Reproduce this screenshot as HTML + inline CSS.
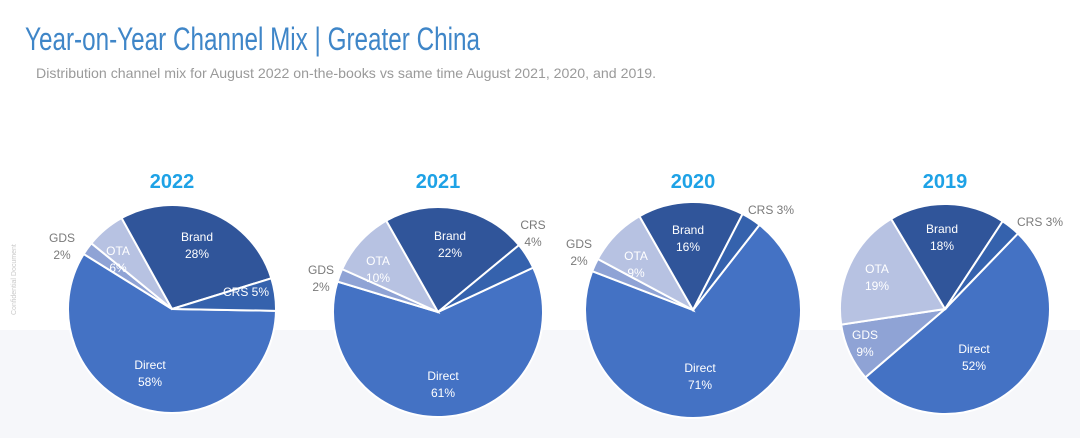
<!DOCTYPE html>
<html><head><meta charset="utf-8"><style>
body{margin:0;width:1080px;height:438px;overflow:hidden;background:#fff;font-family:"Liberation Sans",sans-serif}
</style></head><body>
<svg id="chart" width="1080" height="438" viewBox="0 0 1080 438" xmlns="http://www.w3.org/2000/svg">
<rect x="0" y="330" width="1080" height="108" fill="#f6f7fa"/>
<text x="25" y="50" font-size="32" fill="#3f86c8" textLength="455" lengthAdjust="spacingAndGlyphs">Year-on-Year Channel Mix | Greater China</text>
<text x="36" y="78" font-size="14" fill="#9a9a9a" textLength="620" lengthAdjust="spacingAndGlyphs">Distribution channel mix for August 2022 on-the-books vs same time August 2021, 2020, and 2019.</text>
<text transform="translate(16,315) rotate(-90)" font-size="7" fill="#c8c8c8">Confidential Document</text>
<g id="pies"></g>
</svg>
<script>
const years = ["2022","2021","2020","2019"];
const channels = ["Direct","GDS","OTA","Brand","CRS"];
const direct = [58,61,71,52];
const gds = [2,2,2,9];
const ota = [6,10,9,19];
const brand = [28,22,16,18];
const crs = [5,4,3,3];
const startDeg = [1,-25,-52,-46];
const colors = {Direct:"#4472c4",GDS:"#8fa3d5",OTA:"#b7c2e2",Brand:"#30559a",CRS:"#3562ad"};
const centers = [[172,309],[438,312],[693,310],[945,309]];
const radii = [104,105,108,105];
const ns="http://www.w3.org/2000/svg";
const root=document.getElementById('pies');
function el(t,a){const e=document.createElementNS(ns,t);for(const k in a)e.setAttribute(k,a[k]);return e;}
// label spec: [channel, dx, dy, inside, oneLine]
const labelSpec=[
 {Direct:[-22,60,1],GDS:[-110,-67,0],OTA:[-54,-54,1],Brand:[25,-68,1],CRS:[74,-13,1,1]},
 {Direct:[5,68,1],GDS:[-117,-38,0],OTA:[-60,-47,1],Brand:[12,-72,1],CRS:[95,-83,0]},
 {Direct:[7,62,1],GDS:[-114,-62,0],OTA:[-57,-50,1],Brand:[-5,-76,1],CRS:[78,-96,0,1]},
 {Direct:[29,44,1],GDS:[-80,30,1],OTA:[-68,-36,1],Brand:[-3,-76,1],CRS:[95,-83,0,1]}
];
years.forEach((y,i)=>{
  const vals=[direct[i],gds[i],ota[i],brand[i],crs[i]];
  const tot=vals.reduce((a,b)=>a+b,0);
  const [cx,cy]=centers[i], r=radii[i];
  const g=el('g',{});
  
  
  root.appendChild(g);
  const t=el('text',{x:cx,y:188,'text-anchor':'middle','font-size':20,'font-weight':'bold',fill:'#1ea2e6'});
  
  
  t.textContent=y;g.appendChild(t);
  let a=startDeg[i]*Math.PI/180;
  vals.forEach((v,j)=>{
    const sweep=v/tot*2*Math.PI, a2=a+sweep;
    const x1=cx+r*Math.cos(a),y1=cy+r*Math.sin(a),x2=cx+r*Math.cos(a2),y2=cy+r*Math.sin(a2);
    const p=el('path',{d:`M${cx},${cy}L${x1},${y1}A${r},${r} 0 ${sweep>Math.PI?1:0} 1 ${x2},${y2}Z`,fill:colors[channels[j]],stroke:'#fff','stroke-width':2});
    
    
    g.appendChild(p);
    a=a2;
  });
  channels.forEach((c,j)=>{
    const s=labelSpec[i][c];
    const tx=el('text',{x:cx+s[0],y:cy+s[1],'text-anchor':'middle','font-size':12,fill:s[2]?'#fff':'#7a7a7a'});
    
    
    if(s[3]){tx.textContent=c+' '+vals[j]+'%';}
    else{
      const t1=el('tspan',{x:cx+s[0],dy:0});t1.textContent=c;
      const t2=el('tspan',{x:cx+s[0],dy:17});t2.textContent=vals[j]+'%';
      tx.appendChild(t1);tx.appendChild(t2);
    }
    g.appendChild(tx);
  });
});
</script>
</body></html>
